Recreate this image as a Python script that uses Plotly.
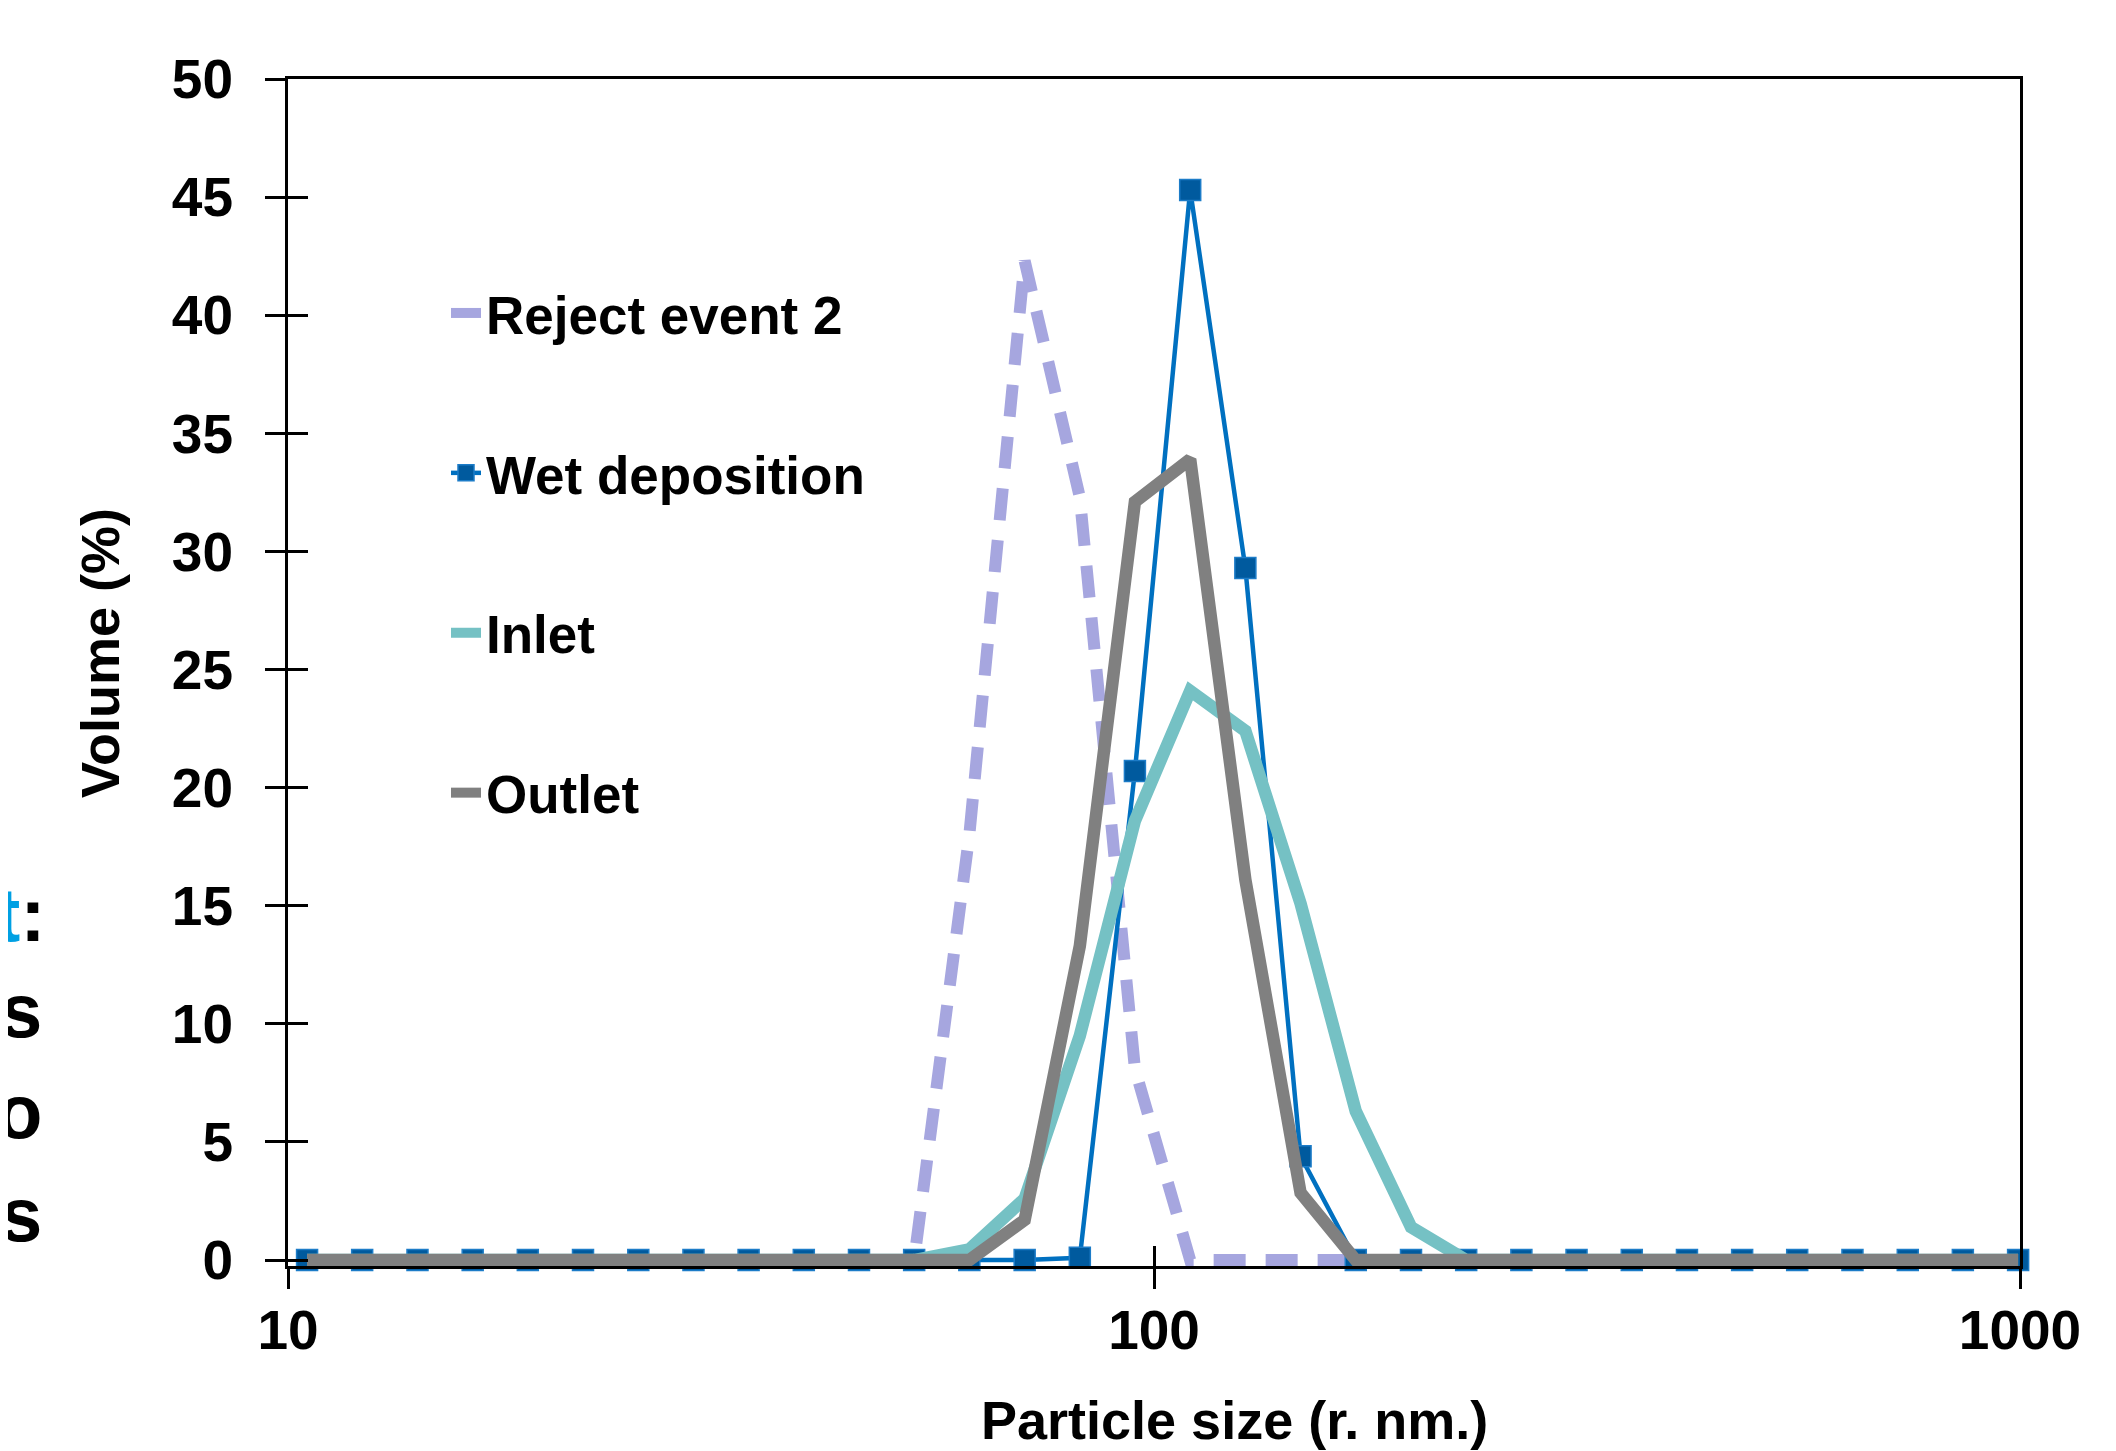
import plotly.graph_objects as go

# ---------------- data ----------------
radius_nm = [10.52, 12.18, 14.11, 16.34, 18.92, 21.91, 25.38, 29.39, 34.03, 39.41,
             45.64, 52.85, 61.2, 70.9, 82.1, 95.05, 110.1, 127.5, 147.65, 171.0,
             198.05, 229.35, 265.6, 307.55, 356.2, 412.5, 477.7, 553.0, 640.5, 742.0,
             859.0, 995.0]

reject_event_2 = [0, 0, 0, 0, 0, 0, 0, 0, 0, 0,
                  0, 0, 18.0, 42.3, 32.3, 8.1, 0, 0, 0, 0,
                  0, 0, 0, 0, 0, 0, 0, 0, 0, 0,
                  0, 0]
wet_deposition = [0, 0, 0, 0, 0, 0, 0, 0, 0, 0,
                  0, 0, 0, 0, 0.1, 20.7, 45.3, 29.3, 4.4, 0,
                  0, 0, 0, 0, 0, 0, 0, 0, 0, 0,
                  0, 0]
inlet = [0, 0, 0, 0, 0, 0, 0, 0, 0, 0,
         0, 0, 0.45, 2.6, 9.5, 18.6, 24.1, 22.4, 15.1, 6.3,
         1.4, 0, 0, 0, 0, 0, 0, 0, 0, 0,
         0, 0]
outlet = [0, 0, 0, 0, 0, 0, 0, 0, 0, 0,
          0, 0, 0, 1.7, 13.3, 32.1, 33.9, 16.1, 2.85, 0,
          0, 0, 0, 0, 0, 0, 0, 0, 0, 0,
          0, 0]

series_names = ["Reject event 2", "Wet deposition", "Inlet", "Outlet"]
y_tick_values = [0, 5, 10, 15, 20, 25, 30, 35, 40, 45, 50]
x_tick_values = [10, 100, 1000]
x_tick_labels = ["10", "100", "1000"]
x_title = "Particle size (r. nm.)"
y_title = "Volume (%)"
side_fragments = ["t:", "s", "o", "s"]

# ---------------- layout constants ----------------
W, H = 2116, 1451
L, R, T, B = 280, 104, 71, 193
FONT = "Liberation Sans Narrow, Arial Narrow, Liberation Sans, Arial, sans-serif"


def px_x(px):
    return (px - L) / (W - L - R)


def px_y(py):
    return (H - B - py) / (H - T - B)


fig = go.Figure()

fig.add_trace(go.Scatter(
    x=radius_nm, y=reject_event_2, name=series_names[0], mode="lines",
    line=dict(color="#A6A6DF", width=12, dash="32px,20px"),
    legendgroup="a", cliponaxis=False))
fig.add_trace(go.Scatter(
    x=radius_nm, y=wet_deposition, name=series_names[1], mode="lines+markers",
    line=dict(color="#0070C0", width=4.5),
    marker=dict(symbol="square", size=21, color="#005A9E",
                line=dict(color="#1C7CC8", width=1.5)),
    legendgroup="b", cliponaxis=False))
fig.add_trace(go.Scatter(
    x=radius_nm, y=inlet, name=series_names[2], mode="lines",
    line=dict(color="#75C1C4", width=12.5),
    legendgroup="c", cliponaxis=False))
fig.add_trace(go.Scatter(
    x=radius_nm, y=outlet, name=series_names[3], mode="lines",
    line=dict(color="#808080", width=12.5),
    legendgroup="d", cliponaxis=False))

# invisible helper trace so the overlay axes (inside tick marks) are drawn
fig.add_trace(go.Scatter(
    x=radius_nm, y=outlet, xaxis="x2", yaxis="y2", mode="lines",
    line=dict(width=0), opacity=0, showlegend=False, hoverinfo="skip"))

fig.update_layout(
    width=W, height=H,
    margin=dict(l=L, r=R, t=T, b=B, autoexpand=False),
    paper_bgcolor="white", plot_bgcolor="white",
    showlegend=True,
    legend=dict(
        x=px_x(438), y=px_y(264), xanchor="left", yanchor="top",
        bgcolor="rgba(0,0,0,0)", borderwidth=0,
        font=dict(family=FONT, size=53, color="black", weight="bold"),
        tracegroupgap=88, traceorder="grouped",
    ),
    xaxis=dict(
        type="log", range=[1, 3], tickvals=x_tick_values, ticktext=x_tick_labels,
        showgrid=False, zeroline=False, showline=True, mirror=True,
        linecolor="black", linewidth=3, ticks="outside", ticklen=20, tickwidth=3,
        tickcolor="black", tickfont=dict(family=FONT, size=55, color="black", weight="bold"),
        ticklabelstandoff=-6,
    ),
    yaxis=dict(
        range=[-0.25, 50], tickvals=y_tick_values,
        showgrid=False, zeroline=False, showline=True, mirror=True,
        linecolor="black", linewidth=3, ticks="outside", ticklen=20, tickwidth=3,
        tickcolor="black", tickfont=dict(family=FONT, size=55, color="black", weight="bold"),
        ticklabelstandoff=21,
    ),
    xaxis2=dict(
        type="log", range=[1, 3], tickvals=x_tick_values, overlaying="x", anchor="y2",
        side="bottom", showgrid=False, zeroline=False, showline=False,
        ticks="inside", ticklen=20, tickwidth=3, tickcolor="black", showticklabels=False,
    ),
    yaxis2=dict(
        range=[-0.25, 50], tickvals=y_tick_values, overlaying="y", anchor="x2",
        side="left", showgrid=False, zeroline=False, showline=False,
        ticks="inside", ticklen=20, tickwidth=3, tickcolor="black", showticklabels=False,
    ),
)

annotations = [
    dict(text=y_title, x=px_x(92), y=px_y(645), xref="paper", yref="paper",
         textangle=-90, showarrow=False, xanchor="center", yanchor="middle",
         font=dict(family=FONT, size=54, color="black", weight="bold")),
    dict(text=x_title, x=px_x(1226), y=px_y(1412), xref="paper", yref="paper",
         showarrow=False, xanchor="center", yanchor="middle",
         font=dict(family=FONT, size=54, color="black", weight="bold")),
]

frag_y = [906, 1002, 1103, 1206]
for i, (txt, fy) in enumerate(zip(side_fragments, frag_y)):
    if i == 0:
        shown = '<span style="color:#00A0E3">t</span>:'
        fx = 40
    else:
        shown = txt
        fx = 36
    annotations.append(dict(
        text=shown, x=px_x(fx), y=px_y(fy), xref="paper", yref="paper",
        showarrow=False, xanchor="right", yanchor="middle",
        font=dict(family=FONT, size=76, color="black", weight="bold")))

fig.update_layout(annotations=annotations)

fig.write_html("out.html")
